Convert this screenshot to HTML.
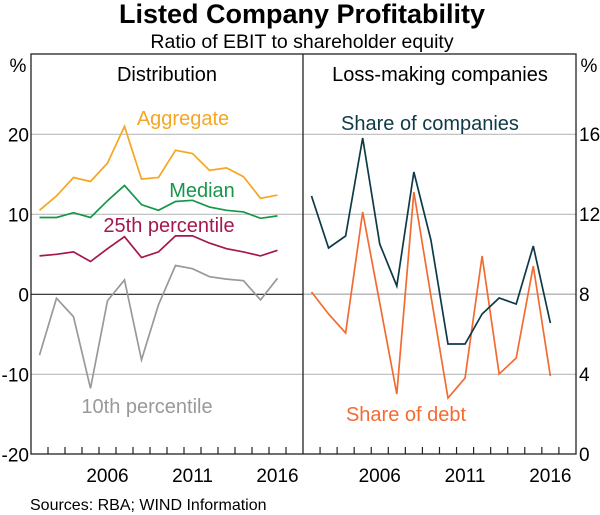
<!DOCTYPE html>
<html><head><meta charset="utf-8"><style>
body{margin:0;background:#fff;}
svg{display:block;font-family:"Liberation Sans",Arial,sans-serif;}
</style></head><body>
<svg id="c" width="600" height="515" viewBox="0 0 600 515">
<text x="302" y="23" text-anchor="middle" font-size="27" font-weight="bold">Listed Company Profitability</text>
<text x="302" y="48" text-anchor="middle" font-size="19.5">Ratio of EBIT to shareholder equity</text>
<g id="grid"></g>
<g id="series"></g>
<rect x="31" y="54" width="545" height="400" fill="none" stroke="#222" stroke-width="1.3"/>
<line x1="303" y1="54" x2="303" y2="454" stroke="#222" stroke-width="1.3"/>
<text x="167" y="81" text-anchor="middle" font-size="20">Distribution</text>
<text x="440" y="81" text-anchor="middle" font-size="20">Loss-making companies</text>
<text x="18" y="72" text-anchor="middle" font-size="19">%</text>
<text x="589" y="72" text-anchor="middle" font-size="19">%</text>
<text x="183" y="125" text-anchor="middle" font-size="20" fill="#f5a623">Aggregate</text>
<text x="202" y="197" text-anchor="middle" font-size="20" fill="#17964a">Median</text>
<text x="169" y="232" text-anchor="middle" font-size="20" fill="#a5174f">25th percentile</text>
<text x="147" y="413" text-anchor="middle" font-size="20" fill="#999">10th percentile</text>
<text x="430" y="130" text-anchor="middle" font-size="20" fill="#0e3a47">Share of companies</text>
<text x="406" y="421" text-anchor="middle" font-size="20" fill="#f26b32">Share of debt</text>
<text x="30" y="510" font-size="16">Sources: RBA; WIND Information</text>
</svg>
<script>
const years=[2002,2003,2004,2005,2006,2007,2008,2009,2010,2011,2012,2013,2014,2015,2016];
const aggregate=[10.5,12.3,14.6,14.1,16.4,21.0,14.4,14.6,18.0,17.6,15.5,15.8,14.7,12.0,12.4];
const median=[9.6,9.6,10.2,9.6,11.7,13.6,11.2,10.5,11.6,11.75,10.9,10.5,10.3,9.5,9.8];
const p25=[4.8,5.0,5.3,4.1,5.7,7.2,4.6,5.3,7.3,7.3,6.4,5.7,5.3,4.8,5.5];
const p10=[-7.6,-0.5,-2.8,-11.75,-0.8,1.8,-8.2,-1.3,3.6,3.2,2.2,1.9,1.7,-0.7,2.0];
const shareCompanies=[12.9,10.3,10.9,15.8,10.5,8.4,14.1,10.7,5.5,5.5,7.0,7.8,7.5,10.4,6.55];
const shareDebt=[8.1,7.0,6.05,12.1,7.55,3.0,13.1,7.9,2.8,3.8,9.9,4.0,4.8,9.4,3.9];
const leftTicks=[-20,-10,0,10,20];
const rightTicks=[0,4,8,12,16];
const xLabels=[2006,2011,2016];
const NS="http://www.w3.org/2000/svg";
const g=document.getElementById('grid'),s=document.getElementById('series');
const svg=document.getElementById('c');
function xL(y){return 31+17*(y-2002)+8.5;}
function xR(y){return 303+17.06*(y-2002)+8.5;}
function yL(v){return 294.3-v*8;}
function yR(v){return 454-v*20;}
function mk(t,a,p){const e=document.createElementNS(NS,t);for(const k in a)e.setAttribute(k,a[k]);p.appendChild(e);return e;}
leftTicks.forEach(v=>{
  const y=yL(v);
  if(v>-20){const l=mk('line',{x1:31,x2:576,y1:y,y2:y,stroke:v===0?'#222':'#bbb','stroke-width':1.2},g);
  
  }
  const t=mk('text',{x:29,y:y+7,'text-anchor':'end','font-size':19},svg);
  t.textContent=v;
  
  
});
const rz=mk('line',{x1:303,x2:576,y1:yL(0),y2:yL(0),stroke:'#bbb','stroke-width':1.3},g);


rightTicks.forEach(v=>{
  const t=mk('text',{x:579,y:yR(v)+7,'font-size':19},svg);
  t.textContent=v;
  
  
});
for(let k=1;k<16;k++){
  [31+17*k,303+17.06*k].forEach(x=>{
    const l=mk('line',{x1:x,x2:x,y1:447,y2:454,stroke:'#222','stroke-width':1.2},g);
    
    
  });
}
xLabels.forEach(yv=>{
  [xL(yv),xR(yv)].forEach(x=>{
    const t=mk('text',{x:x,y:482,'text-anchor':'middle','font-size':19},svg);
    t.textContent=yv;
    
    
  });
});
function line(data,xf,yf,col,name){
  const p=mk('polyline',{points:data.map((v,i)=>xf(years[i])+','+yf(v)).join(' '),fill:'none',stroke:col,'stroke-width':1.7,'stroke-linejoin':'miter'},s);
  
  
}
line(p10,xL,yL,'#999','line-10th-percentile');
line(p25,xL,yL,'#a5174f','line-25th-percentile');
line(median,xL,yL,'#17964a','line-median');
line(aggregate,xL,yL,'#f5a623','line-aggregate');
line(shareDebt,xR,yR,'#f26b32','line-share-of-debt');
line(shareCompanies,xR,yR,'#0e3a47','line-share-of-companies');
</script>
</body></html>
